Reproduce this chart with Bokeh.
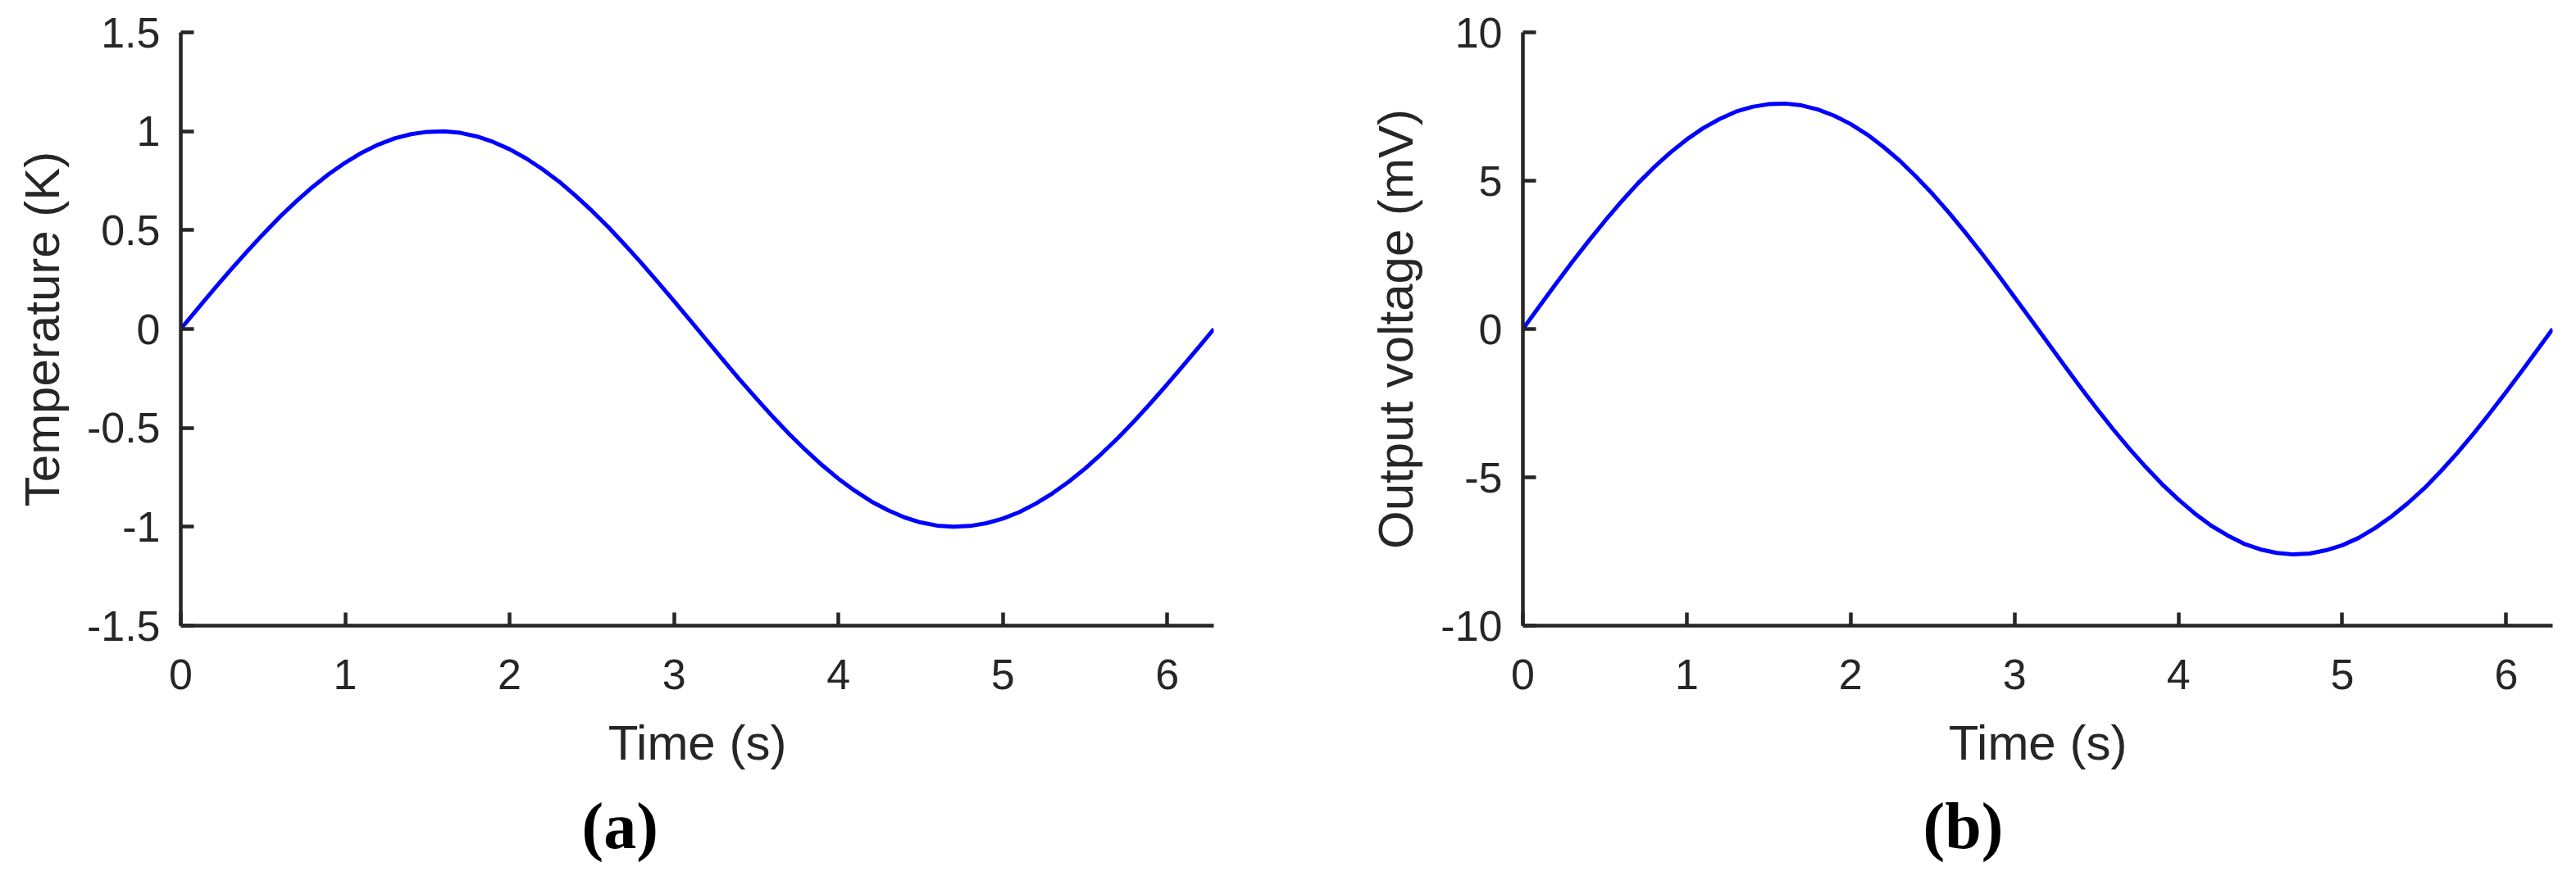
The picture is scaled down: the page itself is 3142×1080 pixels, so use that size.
from bokeh.plotting import figure
from bokeh.layouts import row
from bokeh.models import Range1d, FixedTicker, Title
from bokeh.embed import file_html
from bokeh.resources import INLINE

# ---- data ----
time_s = [0.0, 0.1, 0.2, 0.3, 0.4, 0.5, 0.6, 0.7, 0.8, 0.9, 1.0, 1.1, 1.2, 1.3, 1.4, 1.5,
          1.6, 1.7, 1.8, 1.9, 2.0, 2.1, 2.2, 2.3, 2.4, 2.5, 2.6, 2.7, 2.8, 2.9, 3.0, 3.1,
          3.2, 3.3, 3.4, 3.5, 3.6, 3.7, 3.8, 3.9, 4.0, 4.1, 4.2, 4.3, 4.4, 4.5, 4.6, 4.7,
          4.8, 4.9, 5.0, 5.1, 5.2, 5.3, 5.4, 5.5, 5.6, 5.7, 5.8, 5.9, 6.0, 6.1, 6.2, 6.283]
temperature_k = [0.000, 0.100, 0.199, 0.296, 0.389, 0.479, 0.565, 0.644, 0.717, 0.783,
                 0.841, 0.891, 0.932, 0.964, 0.985, 0.997, 1.000, 0.992, 0.974, 0.946,
                 0.909, 0.863, 0.808, 0.746, 0.675, 0.598, 0.516, 0.427, 0.335, 0.239,
                 0.141, 0.042, -0.058, -0.158, -0.256, -0.351, -0.443, -0.530, -0.612,
                 -0.688, -0.757, -0.818, -0.872, -0.916, -0.952, -0.978, -0.994, -1.000,
                 -0.996, -0.982, -0.959, -0.926, -0.883, -0.832, -0.773, -0.706, -0.631,
                 -0.551, -0.465, -0.374, -0.279, -0.182, -0.083, 0.000]
voltage_mv = [0.00, 0.76, 1.51, 2.25, 2.96, 3.64, 4.29, 4.90, 5.45, 5.95,
              6.39, 6.77, 7.08, 7.33, 7.49, 7.58, 7.60, 7.54, 7.40, 7.19,
              6.91, 6.56, 6.14, 5.67, 5.13, 4.55, 3.92, 3.25, 2.55, 1.82,
              1.07, 0.32, -0.44, -1.20, -1.95, -2.67, -3.37, -4.03, -4.65,
              -5.23, -5.75, -6.22, -6.63, -6.96, -7.24, -7.43, -7.55, -7.60,
              -7.57, -7.46, -7.29, -7.04, -6.71, -6.32, -5.87, -5.37, -4.80,
              -4.19, -3.53, -2.84, -2.12, -1.38, -0.63, 0.00]

x_ticks = [0, 1, 2, 3, 4, 5, 6]
temp_ticks = [-1.5, -1.0, -0.5, 0.0, 0.5, 1.0, 1.5]
temp_tick_labels = ["-1.5", "-1", "-0.5", "0", "0.5", "1", "1.5"]
volt_ticks = [-10, -5, 0, 5, 10]
volt_tick_labels = ["-10", "-5", "0", "5", "10"]
x_label = "Time (s)"
temp_label = "Temperature (K)"
volt_label = "Output voltage (mV)"
panel_labels = ["(a)", "(b)"]

AX = "#262626"
SANS = "Liberation Sans"
SERIF = "Liberation Serif"


def make(width, bl, br, ylo, yhi, yt, ytl, ylabel, xs, ys, panel, offset):
    p = figure(width=width, height=1072, output_backend="svg", toolbar_location=None,
               x_range=Range1d(0, 6.2832), y_range=Range1d(ylo, yhi),
               min_border_left=bl, min_border_right=br, min_border_top=39, min_border_bottom=309)
    p.title.visible = False
    p.outline_line_color = None
    p.xgrid.visible = False
    p.ygrid.visible = False
    p.background_fill_color = "white"
    p.border_fill_color = "white"
    p.line(xs, ys, line_color="#0000FF", line_width=5, line_join="round")

    p.xaxis.ticker = FixedTicker(ticks=x_ticks)
    p.yaxis.ticker = FixedTicker(ticks=yt)
    p.yaxis.major_label_overrides = {float(t): s for t, s in zip(yt, ytl)}
    p.xaxis.axis_label = x_label
    p.yaxis.axis_label = ylabel
    for ax in (p.xaxis[0], p.yaxis[0]):
        ax.axis_line_color = AX
        ax.axis_line_width = 4.5
        ax.major_tick_line_color = AX
        ax.major_tick_line_width = 4.5
        ax.major_tick_in = 16
        ax.major_tick_out = 0
        ax.minor_tick_line_color = None
        ax.major_label_text_font = SANS
        ax.major_label_text_font_size = "52px"
        ax.major_label_text_color = AX
        ax.axis_label_text_font = SANS
        ax.axis_label_text_font_size = "60px"
        ax.axis_label_text_font_style = "normal"
        ax.axis_label_text_color = AX
    p.xaxis.major_label_standoff = 41
    p.xaxis.axis_label_standoff = 29
    p.yaxis.major_label_standoff = 25
    p.yaxis.axis_label_standoff = 18

    p.add_layout(Title(text=panel, align="left", offset=offset, standoff=38,
                       text_font=SERIF, text_font_size="80px", text_font_style="bold",
                       text_color="black"), "below")
    return p


p1 = make(1560, 220, 80, -1.5, 1.5, temp_ticks, temp_tick_labels, temp_label,
          time_s, temperature_k, panel_labels[0], 489)
p2 = make(1574, 297, 21, -10, 10, volt_ticks, volt_tick_labels, volt_label,
          time_s, voltage_mv, panel_labels[1], 488)

layout = row(p1, p2)
open("out.html", "w").write(file_html(layout, INLINE))
